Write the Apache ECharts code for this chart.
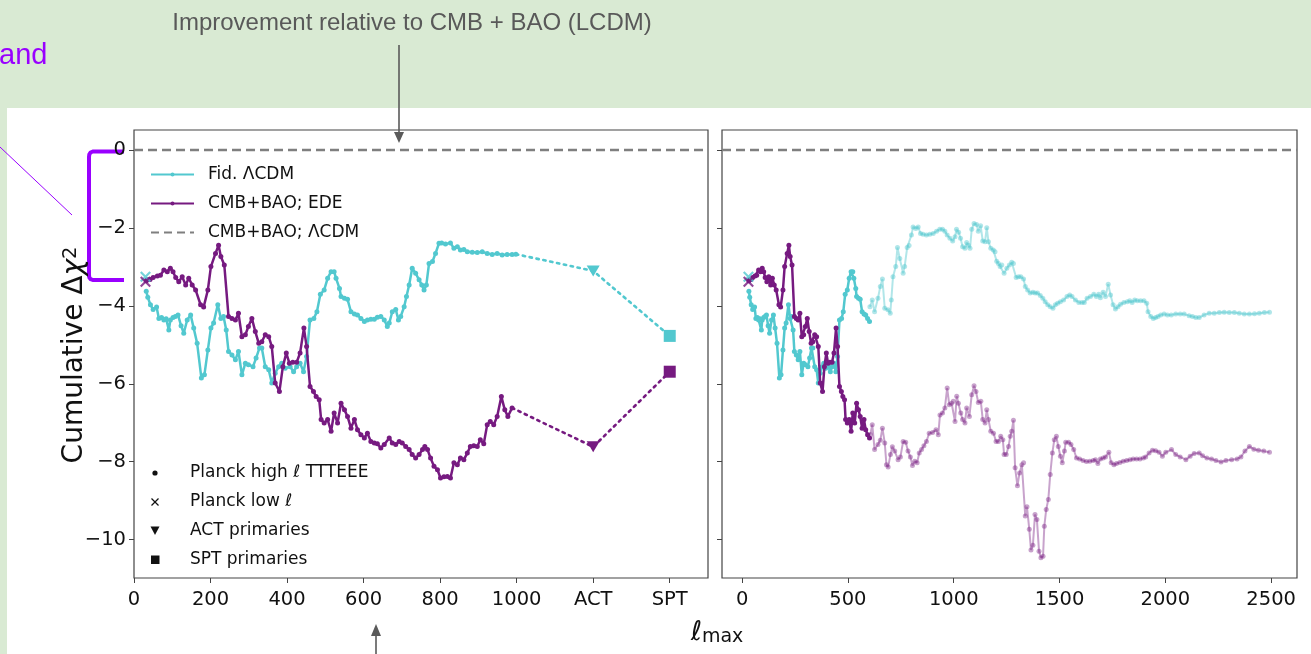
<!DOCTYPE html>
<html><head><meta charset="utf-8">
<script src="https://cdn.jsdelivr.net/npm/echarts@6/dist/echarts.min.js"></script>
<style>html,body{margin:0;padding:0;background:#d9ead3}#c{width:1311px;height:654px}</style>
</head><body><div id="c"></div>
<script>
// ---------------- DATA ----------------
// Fid. LCDM, cumulative delta chi^2 vs ell_max (Planck high-ell TTTEEE)
const cyanMain = [[32,-3.62],[36,-3.78],[43,-3.97],[50,-4.09],[59,-4.03],[65,-4.32],[72,-4.30],[78,-4.36],[84,-4.33],[91,-4.62],[95,-4.36],[102,-4.30],[108,-4.27],[115,-4.23],[123,-4.51],[130,-4.70],[139,-4.36],[148,-4.23],[156,-4.57],[165,-4.96],[176,-5.85],[184,-5.77],[193,-5.13],[201,-4.57],[208,-4.44],[219,-3.97],[227,-4.32],[234,-4.27],[241,-4.62],[247,-5.17],[256,-5.26],[265,-5.38],[273,-5.17],[282,-5.77],[291,-5.47],[299,-5.51],[311,-5.56],[319,-5.34],[328,-5.08],[334,-5.08],[343,-5.56],[352,-5.64],[360,-5.98],[369,-5.73],[378,-5.56],[386,-5.47],[395,-5.60],[408,-5.56],[417,-5.69],[425,-5.56],[434,-5.47],[443,-5.69],[451,-5.30],[460,-4.36],[470,-4.32],[478,-4.15],[487,-3.70],[497,-3.59],[506,-3.29],[515,-3.12],[523,-3.12],[528,-3.29],[537,-3.55],[541,-3.76],[550,-3.80],[558,-3.83],[567,-4.15],[576,-4.21],[584,-4.23],[593,-4.32],[602,-4.40],[610,-4.36],[619,-4.34],[628,-4.34],[636,-4.29],[645,-4.27],[654,-4.36],[662,-4.53],[667,-4.44],[675,-4.15],[684,-4.09],[691,-4.36],[697,-4.27],[706,-4.02],[712,-3.76],[719,-3.46],[727,-3.03],[736,-3.16],[745,-3.33],[752,-3.46],[758,-3.59],[764,-3.46],[771,-2.91],[780,-2.86],[788,-2.65],[797,-2.39],[804,-2.38],[814,-2.41],[827,-2.38],[836,-2.52],[845,-2.48],[853,-2.56],[862,-2.55],[871,-2.61],[884,-2.62],[897,-2.63],[910,-2.61],[923,-2.65],[936,-2.68],[949,-2.65],[962,-2.69],[975,-2.68],[988,-2.68],[998,-2.67]];
// CMB+BAO; EDE
const purpleMain = [[32,-3.35],[35,-3.33],[42,-3.32],[50,-3.27],[61,-3.23],[69,-3.21],[78,-3.08],[87,-3.12],[95,-3.03],[102,-3.12],[109,-3.27],[117,-3.38],[126,-3.25],[135,-3.46],[143,-3.29],[152,-3.46],[161,-3.59],[174,-3.97],[182,-4.03],[193,-3.59],[201,-2.99],[213,-2.65],[221,-2.44],[227,-2.73],[236,-2.95],[247,-4.27],[256,-4.32],[265,-4.36],[273,-4.19],[282,-4.79],[291,-4.74],[299,-4.53],[308,-4.32],[317,-4.66],[326,-4.96],[334,-4.92],[343,-4.74],[352,-4.79],[360,-5.04],[369,-5.98],[380,-6.20],[389,-5.56],[398,-5.21],[406,-5.47],[415,-5.45],[425,-5.45],[434,-5.21],[444,-4.57],[451,-5.04],[460,-6.07],[469,-6.20],[476,-6.33],[484,-6.41],[489,-6.92],[497,-7.01],[506,-6.92],[515,-7.22],[523,-6.75],[532,-7.01],[541,-6.50],[550,-6.67],[558,-6.84],[567,-7.14],[576,-6.92],[584,-7.18],[593,-7.31],[602,-7.39],[610,-7.27],[619,-7.48],[628,-7.52],[636,-7.54],[645,-7.65],[654,-7.56],[667,-7.39],[675,-7.52],[684,-7.56],[693,-7.48],[701,-7.52],[710,-7.61],[719,-7.69],[727,-7.82],[736,-7.91],[745,-7.82],[754,-7.69],[760,-7.61],[767,-7.69],[775,-7.91],[784,-8.12],[793,-8.21],[801,-8.42],[810,-8.39],[819,-8.38],[827,-8.42],[836,-8.03],[845,-8.08],[853,-7.91],[862,-7.95],[871,-7.78],[879,-7.61],[888,-7.59],[897,-7.61],[905,-7.44],[914,-7.54],[923,-7.05],[931,-6.97],[940,-7.05],[949,-6.84],[960,-6.33],[969,-6.67],[977,-6.84],[988,-6.62]];
// Planck low-ell points
const lowEll = 30;
const cyanLow = -3.25;
const purpleLow = -3.38;
// ACT / SPT primaries (placed at pseudo-ell positions)
const actEll = 1200, sptEll = 1400;
const cyanAct = -3.10, cyanSpt = -4.77;
const purpleAct = -7.62, purpleSpt = -5.69;
// Right panel: extension to high ell (faded)
const cyanHigh = [[604,-4.02],[615,-3.85],[626,-4.15],[642,-3.80],[653,-3.50],[663,-3.31],[674,-4.06],[689,-4.10],[700,-4.19],[705,-3.85],[713,-3.25],[726,-2.99],[734,-2.50],[745,-2.78],[761,-3.16],[768,-2.99],[780,-2.50],[789,-2.45],[800,-2.18],[808,-1.97],[821,-2.01],[832,-1.97],[843,-2.14],[855,-2.16],[871,-2.18],[887,-2.16],[903,-2.14],[919,-2.08],[934,-2.03],[947,-2.03],[958,-2.08],[969,-2.18],[982,-2.26],[995,-2.33],[1006,-2.22],[1013,-2.03],[1023,-2.11],[1032,-2.26],[1042,-2.48],[1053,-2.52],[1061,-2.37],[1069,-2.44],[1077,-2.52],[1085,-2.03],[1096,-1.88],[1108,-1.91],[1116,-2.08],[1127,-1.94],[1137,-2.33],[1148,-2.35],[1156,-1.99],[1164,-2.35],[1175,-2.52],[1187,-2.56],[1195,-2.61],[1203,-2.85],[1211,-2.91],[1219,-2.99],[1227,-2.95],[1238,-3.16],[1251,-3.03],[1263,-2.95],[1274,-2.88],[1282,-2.91],[1295,-3.27],[1306,-3.25],[1317,-3.25],[1330,-3.31],[1338,-3.50],[1349,-3.59],[1361,-3.67],[1374,-3.65],[1385,-3.67],[1396,-3.67],[1409,-3.73],[1421,-3.80],[1432,-3.89],[1444,-3.97],[1456,-4.02],[1469,-4.06],[1480,-3.97],[1491,-3.93],[1504,-3.89],[1519,-3.85],[1535,-3.76],[1548,-3.72],[1559,-3.76],[1575,-3.85],[1591,-3.91],[1606,-3.91],[1617,-3.91],[1630,-3.80],[1646,-3.76],[1662,-3.70],[1674,-3.76],[1685,-3.70],[1693,-3.79],[1706,-3.65],[1717,-3.76],[1730,-3.44],[1741,-3.72],[1753,-3.97],[1764,-4.08],[1776,-4.02],[1788,-3.96],[1804,-3.91],[1820,-3.89],[1832,-3.87],[1843,-3.91],[1855,-3.85],[1867,-3.87],[1883,-3.87],[1899,-3.87],[1912,-3.93],[1918,-4.15],[1931,-4.27],[1943,-4.32],[1954,-4.30],[1965,-4.27],[1978,-4.23],[1994,-4.21],[2010,-4.23],[2028,-4.23],[2049,-4.21],[2070,-4.21],[2089,-4.21],[2112,-4.25],[2128,-4.27],[2144,-4.30],[2160,-4.30],[2183,-4.23],[2207,-4.19],[2231,-4.19],[2255,-4.17],[2278,-4.16],[2302,-4.17],[2326,-4.17],[2349,-4.19],[2373,-4.21],[2397,-4.21],[2421,-4.20],[2444,-4.19],[2468,-4.17],[2492,-4.16]];
const purpleHigh = [[606,-7.30],[615,-7.05],[626,-7.69],[642,-7.56],[653,-7.45],[663,-7.14],[674,-7.52],[682,-8.08],[690,-8.14],[701,-7.82],[710,-7.62],[721,-7.73],[737,-7.95],[748,-7.88],[761,-7.48],[773,-7.50],[784,-7.73],[795,-7.88],[805,-8.10],[816,-7.99],[827,-8.03],[837,-7.78],[848,-7.69],[859,-7.59],[871,-7.48],[884,-7.27],[900,-7.25],[916,-7.18],[927,-7.31],[935,-6.80],[947,-6.75],[958,-6.62],[969,-6.11],[979,-6.54],[990,-6.50],[998,-6.45],[1006,-6.97],[1014,-6.32],[1022,-6.50],[1033,-6.75],[1042,-6.92],[1053,-7.01],[1061,-6.62],[1074,-6.84],[1085,-6.28],[1096,-6.05],[1105,-6.20],[1116,-6.48],[1128,-6.45],[1137,-6.92],[1148,-7.01],[1156,-6.67],[1164,-6.92],[1175,-7.22],[1188,-7.27],[1200,-7.48],[1211,-7.48],[1222,-7.35],[1232,-7.44],[1238,-7.82],[1248,-7.82],[1259,-7.61],[1267,-7.35],[1274,-7.22],[1282,-6.94],[1290,-8.16],[1301,-8.62],[1311,-8.29],[1322,-8.08],[1330,-8.03],[1338,-9.40],[1346,-9.16],[1357,-9.74],[1365,-10.27],[1374,-10.15],[1384,-9.36],[1393,-9.49],[1403,-10.30],[1412,-10.47],[1422,-10.43],[1428,-9.66],[1437,-9.23],[1447,-8.97],[1456,-8.33],[1466,-7.78],[1475,-7.44],[1485,-7.35],[1494,-7.61],[1504,-7.86],[1513,-8.03],[1523,-7.73],[1529,-7.50],[1543,-7.50],[1554,-7.56],[1567,-7.69],[1580,-7.91],[1595,-7.93],[1611,-7.97],[1627,-8.00],[1643,-7.99],[1659,-7.97],[1670,-7.95],[1681,-8.05],[1693,-7.93],[1706,-7.91],[1717,-7.88],[1733,-7.76],[1744,-8.03],[1757,-8.08],[1769,-8.05],[1785,-8.02],[1801,-7.99],[1817,-7.97],[1833,-7.95],[1848,-7.93],[1864,-7.93],[1880,-7.93],[1896,-7.91],[1907,-7.88],[1923,-7.78],[1939,-7.71],[1954,-7.72],[1970,-7.76],[1986,-7.86],[2002,-7.76],[2029,-7.69],[2049,-7.82],[2070,-7.88],[2097,-7.95],[2117,-7.86],[2136,-7.79],[2160,-7.78],[2176,-7.85],[2196,-7.91],[2218,-7.93],[2239,-7.97],[2263,-8.01],[2286,-7.97],[2313,-7.95],[2339,-7.93],[2357,-7.88],[2376,-7.73],[2397,-7.61],[2418,-7.68],[2440,-7.71],[2465,-7.73],[2492,-7.76]];
// split between full-colour and faded part in the right panel
const splitEll = 602;
// reference model: CMB+BAO LCDM (zero by definition)
const lcdmRef = 0;
// tick labels
const xTicksLeft = [0, 200, 400, 600, 800, 1000, 1200, 1400];
const xTickNamesLeft = ['0', '200', '400', '600', '800', '1000', 'ACT', 'SPT'];
const xTicksRight = [0, 500, 1000, 1500, 2000, 2500];
const yTicks = [-10, -8, -6, -4, -2, 0];
const legendNames = ['Fid. ΛCDM', 'CMB+BAO; EDE', 'CMB+BAO; ΛCDM'];
const markerLegend = ['Planck high ℓ TTTEEE', 'Planck low ℓ', 'ACT primaries', 'SPT primaries'];

// ---------------- STYLE ----------------
const CYAN = '#52c8cf', PURPLE = '#761a80', GRAY = '#7f7f7f', AX = '#444';
const FONT = 'DejaVu Sans';
const CROSS = 'path://M0,1.4L1.4,0L5,3.6L8.6,0L10,1.4L6.4,5L10,8.6L8.6,10L5,6.4L1.4,10L0,8.6L3.6,5Z';
const minusFmt = v => (v < 0 ? '\u2212' + Math.abs(v) : String(v));

function lineSeries(name, data, color, idx, z, opacity, width) {
  return {
    type: 'line', name, data, xAxisIndex: idx, yAxisIndex: idx, z,
    symbol: 'circle', symbolSize: 5, showSymbol: true, showAllSymbol: true,
    lineStyle: { color, width, opacity }, itemStyle: { color, opacity },
    emphasis: { disabled: true }, silent: true, animation: false
  };
}
function extSeries(name, main, act, spt, color) {
  const last = main[main.length - 1];
  return {
    type: 'line', name, xAxisIndex: 0, yAxisIndex: 0, z: 3,
    data: [
      { value: last, symbol: 'none' },
      { value: [actEll, act], symbol: 'triangle', symbolRotate: 180, symbolSize: [13, 11] },
      { value: [sptEll, spt], symbol: 'rect', symbolSize: 12 }
    ],
    symbol: 'circle',
    lineStyle: { color, width: 2.6, type: [2.4, 4.6], cap: 'round' },
    itemStyle: { color }, emphasis: { disabled: true }, silent: true, animation: false
  };
}
function crossSeries(name, val, color, idx) {
  return { type: 'scatter', name, xAxisIndex: idx, yAxisIndex: idx, z: 6,
    data: [[lowEll, val]], symbol: CROSS, symbolSize: 11,
    itemStyle: { color }, emphasis: { disabled: true }, silent: true, animation: false };
}
function refSeries(idx) {
  return { type: 'line', name: legendNames[2], xAxisIndex: idx, yAxisIndex: idx, data: [], symbol: 'none',
    lineStyle: { color: GRAY, width: 2.2, type: [8, 5] }, itemStyle: { color: GRAY }, animation: false,
    markLine: { silent: true, symbol: ['none', 'none'], label: { show: false },
      lineStyle: { color: GRAY, width: 2.4, type: [9, 5] }, data: [{ yAxis: lcdmRef }], animation: false } };
}

const axisCommon = {
  axisLine: { show: false, onZero: false },
  axisTick: { show: true, inside: false, length: 5, lineStyle: { color: AX, width: 1 } },
  splitLine: { show: false },
};
const yMin = -10.99, yMax = 0.52;

const option = {
  backgroundColor: '#d9ead3',
  animation: false,
  textStyle: { fontFamily: FONT },
  grid: [
    { left: 134, top: 130, width: 574, height: 448, show: true, borderColor: AX, borderWidth: 1.2, backgroundColor: '#fff', outerBoundsMode: 'none' },
    { left: 722, top: 130, width: 575, height: 448, show: true, borderColor: AX, borderWidth: 1.2, backgroundColor: '#fff', outerBoundsMode: 'none' }
  ],
  xAxis: [
    Object.assign({}, axisCommon, { type: 'value', gridIndex: 0, min: 0, max: 1500, position: 'bottom',
      axisTick: Object.assign({}, axisCommon.axisTick, { customValues: xTicksLeft }),
      axisLabel: { customValues: xTicksLeft, fontSize: 19.5, color: '#111', margin: 12, fontFamily: FONT,
        formatter: v => { const i = xTicksLeft.indexOf(v); return i >= 0 ? xTickNamesLeft[i] : ''; } } }),
    Object.assign({}, axisCommon, { type: 'value', gridIndex: 1, min: -95, max: 2622, position: 'bottom',
      axisTick: Object.assign({}, axisCommon.axisTick, { customValues: xTicksRight }),
      axisLabel: { customValues: xTicksRight, fontSize: 19.5, color: '#111', margin: 12, fontFamily: FONT,
        formatter: v => String(v) } })
  ],
  yAxis: [
    Object.assign({}, axisCommon, { type: 'value', gridIndex: 0, min: yMin, max: yMax, position: 'left',
      axisTick: Object.assign({}, axisCommon.axisTick, { customValues: yTicks }),
      axisLabel: { customValues: yTicks, fontSize: 19.5, color: '#111', margin: 8, fontFamily: FONT, formatter: minusFmt } }),
    Object.assign({}, axisCommon, { type: 'value', gridIndex: 1, min: yMin, max: yMax, position: 'left',
      axisTick: Object.assign({}, axisCommon.axisTick, { customValues: yTicks }),
      axisLabel: { show: false, customValues: yTicks } })
  ],
  legend: {
    data: [legendNames[0], legendNames[1], { name: legendNames[2], itemStyle: { opacity: 0 } }],
    orient: 'vertical', left: 150, top: 166, padding: 0,
    itemWidth: 43, itemHeight: 5, itemGap: 12, selectedMode: false,
    textStyle: { fontSize: 17, color: '#111', fontFamily: FONT, padding: [0, 0, 0, 9] }
  },
  series: [
    lineSeries(legendNames[0], cyanMain, CYAN, 0, 3, 1, 2.5),
    lineSeries(legendNames[1], purpleMain, PURPLE, 0, 4, 1, 2.5),
    refSeries(0),
    extSeries('Fid. ΛCDM ext', cyanMain, cyanAct, cyanSpt, CYAN),
    extSeries('EDE ext', purpleMain, purpleAct, purpleSpt, PURPLE),
    crossSeries('cyan low', cyanLow, CYAN, 0),
    crossSeries('purple low', purpleLow, PURPLE, 0),
    lineSeries('Fid high', cyanHigh, CYAN, 1, 2, 0.45, 2),
    lineSeries('EDE high', purpleHigh, PURPLE, 1, 2, 0.4, 2),
    lineSeries('Fid low-ell part', cyanMain.filter(p => p[0] <= splitEll), CYAN, 1, 3, 1, 2.5),
    lineSeries('EDE low-ell part', purpleMain.filter(p => p[0] <= splitEll), PURPLE, 1, 4, 1, 2.5),
    refSeries(1),
    crossSeries('cyan low R', cyanLow, CYAN, 1),
    crossSeries('purple low R', purpleLow, PURPLE, 1)
  ],
  graphic: [
    { type: 'rect', z: -5, shape: { x: 7, y: 108, width: 1304, height: 546 }, style: { fill: '#ffffff' } },
    { type: 'text', x: 412, y: 23, style: { text: 'Improvement relative to CMB + BAO (LCDM)', fill: '#595959',
      fontSize: 24, fontFamily: 'Liberation Sans', align: 'center', verticalAlign: 'middle' } },
    { type: 'text', x: -1, y: 56, style: { text: 'and', fill: '#9900ff', fontSize: 29, fontFamily: 'Liberation Sans',
      align: 'left', verticalAlign: 'middle' } },
    { type: 'line', shape: { x1: 399, y1: 45, x2: 399, y2: 134 }, style: { stroke: '#5a5a5a', lineWidth: 1.6 } },
    { type: 'polygon', shape: { points: [[394, 132], [404, 132], [399, 143]] }, style: { fill: '#5a5a5a' } },
    { type: 'line', shape: { x1: 376, y1: 654, x2: 376, y2: 634 }, style: { stroke: '#5a5a5a', lineWidth: 1.6 } },
    { type: 'polygon', shape: { points: [[371, 636], [381, 636], [376, 624]] }, style: { fill: '#5a5a5a' } },
    { type: 'line', shape: { x1: 0, y1: 147, x2: 72, y2: 215 }, style: { stroke: '#9900ff', lineWidth: 1 } },
    { type: 'polyline', shape: { points: [[124, 151.5], [93, 151.5], [90.5, 152.5], [89.3, 154.5], [89, 157], [89, 275], [89.3, 277.5], [90.5, 279], [93, 280], [124, 280]] },
      style: { fill: null, stroke: '#9900ff', lineWidth: 4 } },
    // y-axis title
    { type: 'text', x: 75, y: 355, rotation: Math.PI / 2,
      style: { text: 'Cumulative Δ{c|χ}{s|2}', fill: '#111', fontSize: 28, fontFamily: FONT, align: 'center', verticalAlign: 'middle',
        rich: { c: { fontSize: 28, fontStyle: 'italic', fontFamily: FONT, fill: '#111' },
                s: { fontSize: 19.5, verticalAlign: 'top', fontFamily: FONT, fill: '#111' } } } },
    // x-axis title
    { type: 'text', x: 717, y: 633,
      style: { text: '{l|ℓ}{m|max}', fill: '#111', align: 'center', verticalAlign: 'middle',
        rich: { l: { fontSize: 27, fontStyle: 'italic', fontFamily: FONT, fill: '#111' },
                m: { fontSize: 19, fontFamily: FONT, fill: '#111', verticalAlign: 'bottom' } } } },
    // marker legend
    { type: 'circle', z: 10, shape: { cx: 155, cy: 473, r: 2.6 }, style: { fill: '#111' } },
    { type: 'line', z: 10, shape: { x1: 151.5, y1: 498.5, x2: 158.5, y2: 505.5 }, style: { stroke: '#111', lineWidth: 1.3 } },
    { type: 'line', z: 10, shape: { x1: 151.5, y1: 505.5, x2: 158.5, y2: 498.5 }, style: { stroke: '#111', lineWidth: 1.3 } },
    { type: 'polygon', z: 10, shape: { points: [[150.5, 526.5], [159.5, 526.5], [155, 535]] }, style: { fill: '#111' } },
    { type: 'rect', z: 10, shape: { x: 151, y: 555.5, width: 8.5, height: 8.5 }, style: { fill: '#111' } }
  ].concat(markerLegend.map((t, i) => ({ type: 'text', z: 10, x: 190, y: 473 + 29 * i,
      style: { text: t, fill: '#111', fontSize: 17, fontFamily: FONT, align: 'left', verticalAlign: 'middle' } })))
};

const chart = echarts.init(document.getElementById('c'), null, { renderer: 'canvas' });
chart.setOption(option);
</script>
</body></html>
